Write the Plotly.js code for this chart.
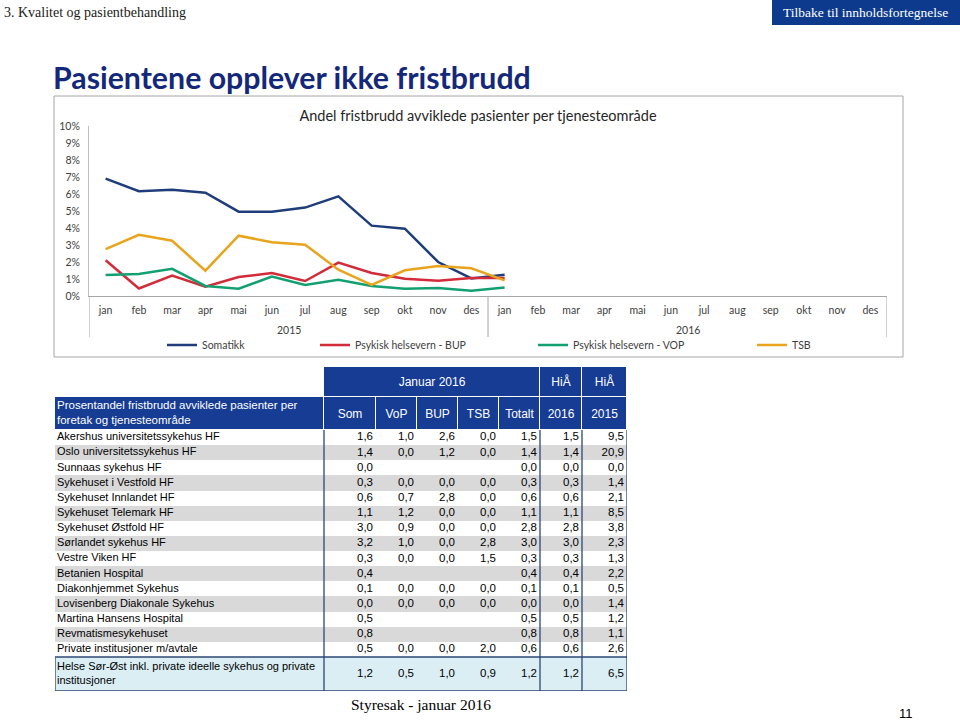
<!DOCTYPE html>
<html>
<head>
<meta charset="utf-8">
<script src="https://cdn.plot.ly/plotly-3.0.1.min.js"></script>
<style>
  html, body { margin: 0; padding: 0; background: #fff; }
  #chart { width: 960px; height: 720px; }
</style>
</head>
<body>
<div id="chart"></div>
<script>
// ---------- Chart data ----------
const months = ['jan','feb','mar','apr','mai','jun','jul','aug','sep','okt','nov','des'];
const years = ['2015','2016'];
const seriesNames = ['Somatikk','Psykisk helsevern - BUP','Psykisk helsevern - VOP','TSB'];
// values in %, jan 2015 .. jan 2016
const somatikk = [6.90, 6.16, 6.25, 6.08, 4.96, 4.96, 5.20, 5.86, 4.14, 3.96, 2.00, 1.03, 1.25];
const bup      = [2.10, 0.44, 1.20, 0.55, 1.12, 1.35, 0.88, 1.96, 1.35, 1.02, 0.90, 1.06, 1.06];
const vop      = [1.24, 1.29, 1.60, 0.59, 0.43, 1.14, 0.65, 0.96, 0.59, 0.43, 0.47, 0.31, 0.50];
const tsb      = [2.76, 3.60, 3.25, 1.49, 3.55, 3.16, 3.02, 1.55, 0.65, 1.51, 1.76, 1.63, 0.92];

// ---------- Table data ----------
const topHeader = ['', 'Januar 2016', 'HiÅ', 'HiÅ'];
const tableHeader = ['Prosentandel fristbrudd avviklede pasienter per<br>foretak og tjenesteområde','Som','VoP','BUP','TSB','Totalt','2016','2015'];
const foretak = ['Akershus universitetssykehus HF','Oslo universitetssykehus HF','Sunnaas sykehus HF','Sykehuset i Vestfold HF','Sykehuset Innlandet HF','Sykehuset Telemark HF','Sykehuset Østfold HF','Sørlandet sykehus HF','Vestre Viken HF','Betanien Hospital','Diakonhjemmet Sykehus','Lovisenberg Diakonale Sykehus','Martina Hansens Hospital','Revmatismesykehuset','Private institusjoner m/avtale'];
const somCol    = [1.6, 1.4, 0.0, 0.3, 0.6, 1.1, 3.0, 3.2, 0.3, 0.4, 0.1, 0.0, 0.5, 0.8, 0.5];
const vopCol    = [1.0, 0.0, null, 0.0, 0.7, 1.2, 0.9, 1.0, 0.0, null, 0.0, 0.0, null, null, 0.0];
const bupCol    = [2.6, 1.2, null, 0.0, 2.8, 0.0, 0.0, 0.0, 0.0, null, 0.0, 0.0, null, null, 0.0];
const tsbCol    = [0.0, 0.0, null, 0.0, 0.0, 0.0, 0.0, 2.8, 1.5, null, 0.0, 0.0, null, null, 2.0];
const totaltCol = [1.5, 1.4, 0.0, 0.3, 0.6, 1.1, 2.8, 3.0, 0.3, 0.4, 0.1, 0.0, 0.5, 0.8, 0.6];
const hia2016   = [1.5, 1.4, 0.0, 0.3, 0.6, 1.1, 2.8, 3.0, 0.3, 0.4, 0.1, 0.0, 0.5, 0.8, 0.6];
const hia2015   = [9.5, 20.9, 0.0, 1.4, 2.1, 8.5, 3.8, 2.3, 1.3, 2.2, 0.5, 1.4, 1.2, 1.1, 2.6];
const totalLabel = 'Helse Sør-Øst inkl. private ideelle sykehus og private<br>institusjoner';
const totalRow = [1.2, 0.5, 1.0, 0.9, 1.2, 1.2, 6.5];

// ---------- layout constants (px) ----------
const W = 960, H = 720;
const X = p => p / W;
const Y = p => 1 - p / H;
const fmt = v => (v === null ? '' : v.toFixed(1).replace('.', ','));

const colors = ['#1f3d7a', '#d22b3a', '#13a070', '#e8a41d'];
const chartFont = 'Lato, "Open Sans", sans-serif';
const tableFont = '"Liberation Sans", Arial, sans-serif';
const HEAD_BLUE = '#163c93';
const LINE_BLUE = '#2c4775';

// ---------- line chart ----------
const cats = [];
const catLabels = [];
years.forEach(y => months.forEach(m => { cats.push(m + ' ' + y); catLabels.push(m); }));
const pad = arr => arr.concat(new Array(cats.length - arr.length).fill(null));

const traces = [somatikk, bup, vop, tsb].map((vals, i) => ({
  type: 'scatter', mode: 'lines',
  name: seriesNames[i],
  x: cats, y: pad(vals),
  xaxis: 'x', yaxis: 'y',
  line: { color: colors[i], width: 2.5 },
  legend: i === 0 ? 'legend' : 'legend' + (i + 1),
  hoverinfo: 'skip'
}));

// ---------- table geometry (table axes are in px units) ----------
const colW = [269, 52, 41, 41, 41, 41, 42, 45];
const topSpan = [1, 5, 1, 1];
const TOP_H = 30, HEAD_H = 33, ROW_H = 227 / 15, TOTAL_H = 34;
const TXT_PAD = 2, NUM_PAD = 3;
const cum = arr => arr.reduce((a, w) => { a.push(a[a.length - 1] + w); return a; }, [0]);
const xEdges = cum(colW);
const topEdges = [0];
{ let k = 0; topSpan.forEach(s => { k += s; topEdges.push(xEdges[k]); }); }
const TABLE_W = xEdges[xEdges.length - 1];
const y0Head = TOP_H, y0Body = TOP_H + HEAD_H;
const bodyEdges = cum(foretak.map(() => ROW_H)).map(v => v + y0Body);
const y0Total = bodyEdges[bodyEdges.length - 1];
const TABLE_H = y0Total + TOTAL_H;
const mid = (a, i) => (a[i] + a[i + 1]) / 2;

const colorscale = [[0, '#ffffff'], [1 / 3, '#d9d9d9'], [2 / 3, HEAD_BLUE], [1, '#dbeef4']];
const hm = (x, y, z, gapx, gapy) => ({
  type: 'heatmap', x, y, z, xaxis: 'x2', yaxis: 'y2',
  zmin: 0, zmax: 3, colorscale, showscale: false, xgap: gapx, ygap: gapy, hoverinfo: 'skip'
});
const tableTraces = [
  hm(topEdges, [0, TOP_H], [[0, 2, 2, 2]], 1, 1),
  hm(xEdges, [y0Head, y0Body], [colW.map(() => 2)], 1, 1),
  hm(xEdges, bodyEdges, foretak.map((_, r) => colW.map(() => (r % 2 === 1 ? 1 : 0))), 0, 0),
  hm(xEdges, [y0Total, TABLE_H], [colW.map(() => 3)], 0, 0)
];

const txt = (x, y, text, pos, color, size) => ({
  type: 'scatter', mode: 'text', x, y, text, textposition: pos,
  xaxis: 'x2', yaxis: 'y2', cliponaxis: false, showlegend: false, hoverinfo: 'skip',
  textfont: { family: tableFont, size, color }
});
// header texts
tableTraces.push(txt([1, 2, 3].map(i => mid(topEdges, i)), [1, 2, 3].map(() => TOP_H / 2 + 1),
  topHeader.slice(1), 'middle center', '#ffffff', 12));
tableTraces.push(txt([1, 2, 3, 4, 5, 6, 7].map(i => mid(xEdges, i)), [1, 2, 3, 4, 5, 6, 7].map(() => y0Head + HEAD_H / 2 + 1),
  tableHeader.slice(1), 'middle center', '#ffffff', 12));
tableTraces.push(txt([TXT_PAD], [y0Head + HEAD_H / 2], [tableHeader[0]], 'middle right', '#ffffff', 11.5));
// body labels
tableTraces.push(txt(foretak.map(() => TXT_PAD), foretak.map((_, r) => mid(bodyEdges, r)), foretak, 'middle right', '#000000', 11));
// body numbers
{
  const cols = [somCol, vopCol, bupCol, tsbCol, totaltCol, hia2016, hia2015];
  const xs = [], ys = [], ts = [];
  cols.forEach((col, c) => col.forEach((v, r) => {
    xs.push(xEdges[c + 2] - NUM_PAD); ys.push(mid(bodyEdges, r)); ts.push(fmt(v));
  }));
  tableTraces.push(txt(xs, ys, ts, 'middle left', '#000000', 11.5));
}
// total row
tableTraces.push(txt([TXT_PAD], [y0Total + TOTAL_H / 2], [totalLabel], 'middle right', '#000000', 11));
tableTraces.push(txt(totalRow.map((_, c) => xEdges[c + 2] - NUM_PAD), totalRow.map(() => y0Total + TOTAL_H / 2),
  totalRow.map(fmt), 'middle left', '#000000', 11.5));

// ---------- decorations ----------
const tline = (x0, x1, y0, y1) => ({ type: 'line', xref: 'x2', yref: 'y2', x0, x1, y0, y1,
  line: { color: LINE_BLUE, width: 1.3 }, layer: 'above' });
const divider = x => ({ type: 'line', xref: 'x', yref: 'paper', x0: x, x1: x, y0: Y(296), y1: Y(337),
  line: { color: '#a6a6a6', width: 1 }, layer: 'above' });

const shapes = [
  { type: 'rect', xref: 'paper', yref: 'paper', x0: X(54), x1: X(903), y0: Y(357), y1: Y(96),
    line: { color: '#a6a6a6', width: 1 }, fillcolor: 'rgba(0,0,0,0)', layer: 'below' },
  { type: 'rect', xref: 'paper', yref: 'paper', x0: X(772), x1: X(960), y0: Y(25), y1: Y(0),
    line: { width: 0 }, fillcolor: '#0d3a8d', layer: 'below' },
  divider(-0.5), divider(months.length - 0.5), divider(cats.length - 0.5),
  tline(xEdges[1], xEdges[1], y0Body, TABLE_H),
  tline(xEdges[6], xEdges[6], y0Body, TABLE_H),
  tline(xEdges[7], xEdges[7], y0Body, TABLE_H),
  tline(TABLE_W, TABLE_W, y0Body, TABLE_H),
  tline(0, 0, y0Total, TABLE_H),
  tline(0, TABLE_W, y0Total, y0Total),
  tline(0, TABLE_W, TABLE_H, TABLE_H)
];

const annotations = [
  { text: '3. Kvalitet og pasientbehandling', xref: 'paper', yref: 'paper', x: X(2), y: Y(12),
    xanchor: 'left', yanchor: 'middle', showarrow: false,
    font: { family: '"Liberation Serif", "DejaVu Serif", serif', size: 14, color: '#1a1a1a' } },
  { text: 'Tilbake til innholdsfortegnelse', xref: 'paper', yref: 'paper', x: X(865), y: Y(12.5),
    xanchor: 'center', yanchor: 'middle', showarrow: false,
    font: { family: '"Liberation Serif", "DejaVu Serif", serif', size: 13.5, color: '#ffffff' } },
  { text: '<b>Pasientene opplever ikke fristbrudd</b>', xref: 'paper', yref: 'paper', x: X(51), y: Y(77),
    xanchor: 'left', yanchor: 'middle', showarrow: false,
    font: { family: chartFont, size: 30.3, color: '#14287a' } },
  { text: 'Styresak - januar 2016', xref: 'paper', yref: 'paper', x: X(421), y: Y(704),
    xanchor: 'center', yanchor: 'middle', showarrow: false,
    font: { family: '"Liberation Serif", "DejaVu Serif", serif', size: 15.5, color: '#000000' } },
  { text: '11', xref: 'paper', yref: 'paper', x: X(906), y: Y(713),
    xanchor: 'center', yanchor: 'middle', showarrow: false,
    font: { family: tableFont, size: 13, color: '#000000' } }
].concat(years.map((yr, i) => ({
  text: yr, xref: 'x', yref: 'paper', x: i * months.length + (months.length - 1) / 2, y: Y(330),
  xanchor: 'center', yanchor: 'middle', showarrow: false,
  font: { family: chartFont, size: 10.5, color: '#404040' }
})));

const legendPos = [162, 315, 533, 752];
const legendBase = i => ({
  orientation: 'h', x: X(legendPos[i]), y: Y(345), xanchor: 'left', yanchor: 'middle',
  font: { family: chartFont, size: 10.5, color: '#404040' }, bgcolor: 'rgba(0,0,0,0)'
});

const layout = {
  width: W, height: H,
  margin: { l: 0, r: 0, t: 0, b: 0 },
  paper_bgcolor: '#ffffff', plot_bgcolor: 'rgba(0,0,0,0)',
  font: { family: chartFont, color: '#404040' },
  title: { text: 'Andel fristbrudd avviklede pasienter per tjenesteområde',
    x: X(478), y: Y(116), xref: 'paper', yref: 'container', xanchor: 'center', yanchor: 'middle',
    font: { family: chartFont, size: 14.5, color: '#262626' } },
  xaxis: {
    type: 'category', domain: [X(89), X(887)], anchor: 'y',
    range: [-0.5, cats.length - 0.5],
    tickmode: 'array', tickvals: cats, ticktext: catLabels,
    showline: true, linecolor: '#a6a6a6', linewidth: 1,
    showgrid: false, zeroline: false, ticks: '', ticklabelstandoff: 4,
    tickfont: { family: chartFont, size: 10.5, color: '#404040' }
  },
  yaxis: {
    domain: [Y(296), Y(126)], anchor: 'x',
    range: [0, 10], dtick: 1, ticksuffix: '%',
    showline: true, linecolor: '#bfbfbf', linewidth: 1,
    showgrid: false, zeroline: false, ticks: '', ticklabelstandoff: 6,
    tickfont: { family: chartFont, size: 10.5, color: '#404040' }
  },
  xaxis2: { domain: [X(55), X(55 + TABLE_W)], range: [0, TABLE_W], anchor: 'y2', visible: false, fixedrange: true },
  yaxis2: { domain: [Y(367 + TABLE_H), Y(367)], range: [TABLE_H, 0], anchor: 'x2', visible: false, fixedrange: true },
  showlegend: true,
  legend: legendBase(0), legend2: legendBase(1), legend3: legendBase(2), legend4: legendBase(3),
  shapes, annotations
};

Plotly.newPlot('chart', tableTraces.concat(traces), layout,
  { displayModeBar: false, staticPlot: true });
</script>
</body>
</html>
